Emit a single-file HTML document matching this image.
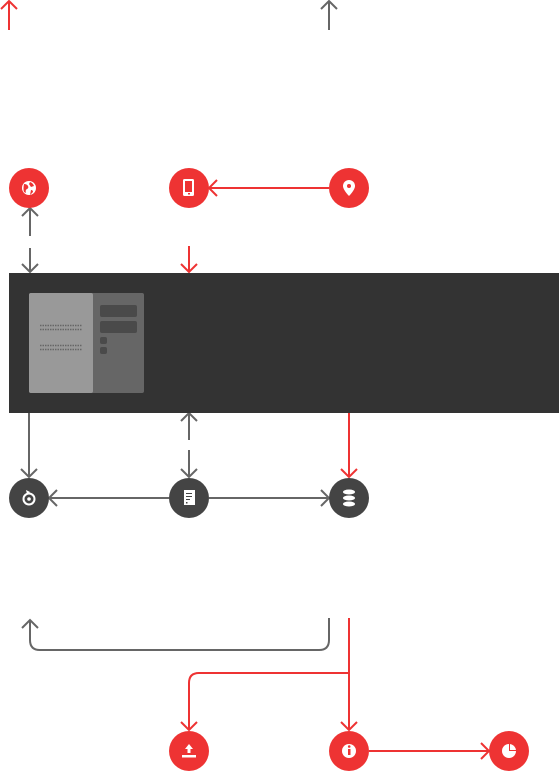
<!DOCTYPE html><html><head><style>body{margin:0;background:#fff}svg{display:block}</style></head><body>
<svg width="559" height="771" viewBox="0 0 559 771" xmlns="http://www.w3.org/2000/svg">
<g fill="none" stroke-width="2">
<g stroke="#ee3333">
<path d="M9 30V1M1 9L9 1L17 9"/>
<path d="M209 188H329M217 180L209 188L217 196"/>
<path d="M189 246V272M181 264L189 272L197 264"/>
<path d="M349 413V477M341 469L349 477L357 469"/>
<path d="M349 618V730M341 722L349 730L357 722"/>
<path d="M349 673H199Q189 673 189 683V730M181 722L189 730L197 722"/>
<path d="M369 751H489M481 743L489 751L481 759"/>
</g>
<g stroke="#666">
<path d="M329 30V1M321 9L329 1L337 9"/>
<path d="M30 236V208M22 216L30 208L38 216"/>
<path d="M30 248V272M22 264L30 272L38 264"/>
<path d="M29 413V477M21 469L29 477L37 469"/>
<path d="M189 440V413M181 421L189 413L197 421"/>
<path d="M189 450V477M181 469L189 477L197 469"/>
<path d="M169 498H49M57 490L49 498L57 506"/>
<path d="M209 498H329M321 490L329 498L321 506"/>
<path d="M329 618V640Q329 650 319 650H40Q30 650 30 640V620M22 628L30 620L38 628"/>
</g>
</g>
<rect x="9" y="273" width="550" height="140" fill="#333"/>
<rect x="29" y="293" width="115" height="100" rx="2" fill="#666"/>
<rect x="29" y="293" width="64" height="100" rx="2" fill="#999"/>
<rect x="100" y="305" width="37" height="12" rx="2" fill="#4a4a4a"/>
<rect x="100" y="321" width="37" height="12" rx="2" fill="#4a4a4a"/>
<rect x="100" y="337" width="7" height="7" rx="2" fill="#4a4a4a"/>
<rect x="100" y="347" width="7" height="7" rx="2" fill="#4a4a4a"/>
<g stroke="#666" stroke-width="1.5" stroke-dasharray="1.5,1"><path d="M40 325.5H82M40 329.5H82M40 345.5H82M40 349.5H82"/></g>
<g fill="#ee3333">
<circle cx="29" cy="188" r="20"/><circle cx="189" cy="188" r="20"/><circle cx="349" cy="188" r="20"/>
<circle cx="189" cy="751" r="20"/><circle cx="349" cy="751" r="20"/><circle cx="509" cy="751" r="20"/>
</g>
<g fill="#444"><circle cx="29" cy="498" r="20"/><circle cx="189" cy="498" r="20"/><circle cx="349" cy="498" r="20"/></g>
<g fill="#fff">
<circle cx="29" cy="188" r="7"/>
<rect x="183" y="179" width="11" height="17" rx="1.5"/>
<path d="M349 180a6 6 0 0 1 6 6c0 4-6 10-6 10s-6-6-6-10a6 6 0 0 1 6-6z"/>
<rect x="184" y="490" width="11" height="15"/>
<ellipse cx="349" cy="492" rx="6" ry="2.5"/><ellipse cx="349" cy="498" rx="6" ry="2.5"/><ellipse cx="349" cy="504" rx="6" ry="2.5"/>
<rect x="182" y="755" width="14" height="2.5"/><path d="M189 744l-4 5h2.5v4h3v-4h2.5z"/>
<circle cx="349" cy="751" r="7"/>
<circle cx="509" cy="751" r="7"/>
</g>
<g fill="#ee3333"><path d="M24 184q3 0 4 2t-1 3q-2 1-1 4l-2-1q-1-3 0-8zM30 182q3 1 4 4l-3 1-2-3zM31 190q2 0 2 2l-3 3z"/><circle cx="349" cy="186" r="2"/><rect x="348" y="749" width="2.5" height="6"/><circle cx="349.2" cy="746.5" r="1.3"/><path d="M509 751V743h1v7h7v1z"/></g>
<g fill="#444"><rect x="186" y="493" width="6" height="1"/><rect x="186" y="496" width="6" height="1"/><rect x="186" y="499" width="4" height="1"/><rect x="186" y="502" width="1.5" height="1.5"/></g>
<rect x="185" y="181" width="7" height="11" fill="#ee3333"/>
<rect x="188" y="193" width="2" height="1.5" fill="#ee3333"/>
<circle cx="29" cy="499" r="5.5" fill="none" stroke="#fff" stroke-width="2"/><circle cx="29" cy="499" r="1.8" fill="#fff"/>
<path d="M26 490l4 2-3 2z" fill="#fff"/>
</svg>
</body></html>
